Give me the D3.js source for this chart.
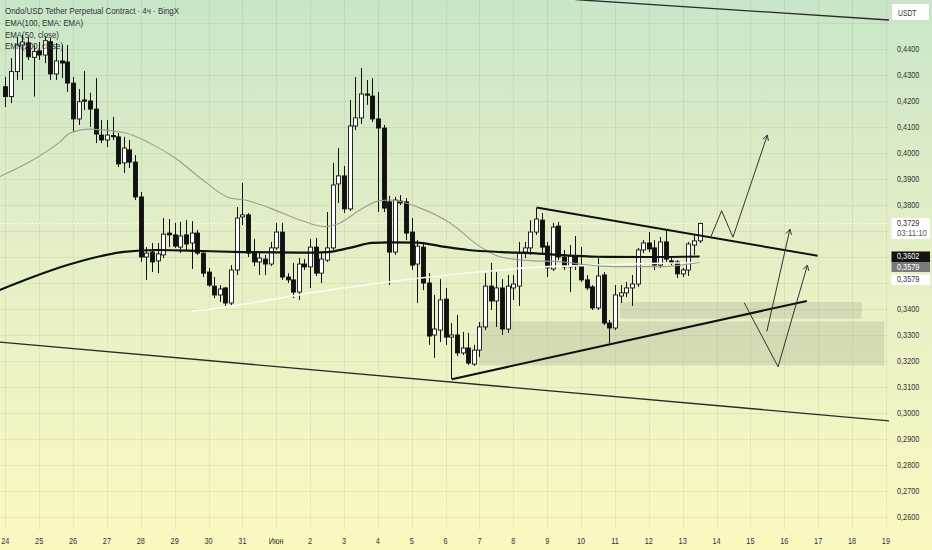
<!DOCTYPE html>
<html><head><meta charset="utf-8">
<script src="https://cdn.jsdelivr.net/npm/d3@7"></script>
<style>
html,body{margin:0;padding:0;background:#fff;overflow:hidden}
svg{display:block;font-family:"Liberation Sans","Noto Sans",Arial,sans-serif}
</style>
</head><body>
<svg id="c" width="932" height="550"></svg>
<script>
// ---------- DATA ----------
const START = Date.UTC(2025, 4, 24, 0, 0);   // first 4h candle: 24 May 00:00
const title = "Ondo/USD Tether Perpetual Contract · 4ч · BingX";
const legend = ["EMA(100, EMA: EMA)", "EMA(50, close)", "EMA(200, close)"];
const open = [.4255,.4217,.4313,.4415,.4424,.4368,.4393,.4377,.4428,.4304,.4354,.4350,.4269,.4131,.4204,.4200,.4169,.4069,.4050,.4067,.4062,.3962,.4012,.3965,.3831,.3600,.3619,.3585,.3608,.3692,.3685,.3638,.3685,.3654,.3692,.3615,.3542,.3488,.3454,.3481,.3423,.3550,.3754,.3762,.3615,.3581,.3592,.3573,.3635,.3696,.3523,.3512,.3465,.3573,.3562,.3638,.3538,.3588,.3635,.3881,.3912,.3785,.4104,.4135,.4227,.4219,.4131,.4096,.3812,.3619,.3815,.3812,.3696,.3573,.3638,.3500,.3300,.3319,.3438,.3292,.3300,.3231,.3250,.3188,.3242,.3331,.3488,.3431,.3481,.3323,.3481,.3488,.3619,.3635,.3696,.3742,.3642,.3554,.3719,.3600,.3562,.3604,.3569,.3512,.3485,.3404,.3531,.3346,.3327,.3450,.3462,.3481,.3496,.3627,.3654,.3635,.3569,.3658,.3585,.3581,.3535,.3550,.3646,.3662];
const high = [.4293,.4365,.4446,.4454,.4446,.4415,.4427,.4450,.4442,.4423,.4415,.4415,.4292,.4246,.4315,.4232,.4288,.4127,.4127,.4139,.4077,.4062,.4050,.3992,.3850,.3638,.3654,.3654,.3750,.3746,.3731,.3735,.3742,.3738,.3704,.3627,.3558,.3523,.3492,.3485,.3569,.3792,.3885,.3769,.3669,.3619,.3608,.3658,.3731,.3731,.3538,.3577,.3596,.3592,.3669,.3673,.3615,.3773,.3962,.4019,.3950,.4204,.4292,.4327,.4281,.4288,.4235,.4108,.3835,.3831,.3838,.3827,.3750,.3665,.3654,.3538,.3454,.3515,.3481,.3346,.3377,.3312,.3308,.3262,.3350,.3538,.3577,.3542,.3515,.3531,.3531,.3658,.3658,.3742,.3788,.3769,.3658,.3731,.3735,.3627,.3646,.3681,.3638,.3531,.3492,.3596,.3542,.3358,.3492,.3492,.3504,.3531,.3635,.3665,.3696,.3665,.3677,.3704,.3596,.3588,.3558,.3658,.3685,.3732];
const low = [.4177,.4192,.4281,.4281,.4358,.4217,.4358,.4346,.4281,.4281,.4288,.4235,.4081,.4108,.4165,.4100,.4038,.4038,.4023,.4050,.3946,.3923,.3942,.3819,.3581,.3512,.3542,.3538,.3596,.3638,.3635,.3615,.3627,.3554,.3608,.3523,.3485,.3442,.3427,.3412,.3415,.3531,.3723,.3600,.3565,.3531,.3531,.3565,.3627,.3512,.3500,.3442,.3435,.3550,.3481,.3527,.3500,.3581,.3627,.3808,.3769,.3777,.4088,.4112,.4185,.4119,.3773,.3773,.3492,.3608,.3800,.3665,.3550,.3423,.3473,.3262,.3212,.3273,.3262,.3131,.3219,.3223,.3185,.3181,.3215,.3319,.3396,.3331,.3300,.3308,.3435,.3412,.3596,.3608,.3685,.3608,.3523,.3546,.3588,.3550,.3465,.3550,.3504,.3473,.3396,.3396,.3338,.3269,.3319,.3423,.3446,.3412,.3485,.3615,.3619,.3550,.3558,.3581,.3569,.3519,.3523,.3527,.3608,.3654];
const close = [.4217,.4313,.4415,.4427,.4370,.4390,.4377,.4432,.4304,.4354,.4346,.4269,.4131,.4197,.4200,.4169,.4073,.4050,.4069,.4063,.3958,.4019,.3965,.3831,.3600,.3615,.3581,.3612,.3688,.3685,.3642,.3681,.3650,.3692,.3615,.3538,.3492,.3454,.3477,.3423,.3550,.3750,.3762,.3615,.3581,.3596,.3573,.3635,.3696,.3523,.3512,.3465,.3573,.3562,.3638,.3538,.3592,.3635,.3877,.3912,.3785,.4104,.4135,.4227,.4223,.4131,.4096,.3788,.3619,.3819,.3808,.3692,.3569,.3642,.3500,.3296,.3323,.3435,.3292,.3300,.3231,.3250,.3192,.3242,.3331,.3488,.3431,.3481,.3323,.3488,.3496,.3615,.3635,.3696,.3746,.3638,.3558,.3715,.3600,.3562,.3604,.3565,.3512,.3481,.3404,.3527,.3346,.3327,.3454,.3462,.3481,.3496,.3627,.3654,.3631,.3569,.3658,.3592,.3577,.3535,.3550,.3650,.3662,.3729];

// indicator readings: [candle index, price]
const ema100 = [[-1,0.3473],[5,0.3524],[11,0.3569],[17,0.3604],[21,0.3620],[27,0.3627],[35,0.3623],[42,0.3619],[52,0.3617],[57,0.3619],[61,0.3635],[65,0.3654],[68,0.3656],[73,0.3655],[77,0.3642],[82,0.3627],[88,0.3619],[94,0.3614],[98,0.3608],[105,0.3601],[114,0.3600],[123,0.3602]];
const ema50 = [[-1,0.3909],[4.4,0.3967],[9.7,0.4043],[11.5,0.4077],[15,0.4092],[21.2,0.4078],[25.6,0.4038],[30.1,0.3981],[35,0.3896],[39.8,0.3827],[42.5,0.3819],[46.9,0.3788],[52.2,0.3742],[56.6,0.3717],[59.3,0.3731],[62.8,0.3781],[66.4,0.3817],[68.1,0.3819],[73.5,0.3788],[78.8,0.3731],[84.1,0.3640],[87.6,0.3601],[93,0.3586],[98.3,0.3582],[105.4,0.3565],[110.7,0.3563],[116,0.3563],[123,0.3579]];
const ema200 = [[33,0.3392],[36.3,0.3399],[42.5,0.3419],[54.9,0.3465],[68.1,0.3505],[77,0.3527],[87.6,0.3550],[93.8,0.3560],[105.4,0.3569],[114.2,0.3575],[123,0.3579]];

// drawings: [candle index, price]
const resistance = [[94.1,0.3790],[143.9,0.3605]];
const support = [[79.1,0.3130],[142,0.3431]];
const channelTop = [[101,0.4590],[157,0.4511]];
const channelBottom = [[-1,0.3273],[157,0.2969]];
const arrows = [
  [[125,0.3678],[126.9,0.3778],[128.9,0.3676],[135,0.4069]],
  [[130.9,0.3424],[136.9,0.3178],[142.1,0.3569]],
  [[134.9,0.3313],[139,0.3707]]
];
// zones: [fromIndex, toIndex, topPrice, bottomPrice]
const zones = [[108.9,151.7,0.3427,0.3363],[84.0,155.7,0.3352,0.3183]];

const priceTicks = [0.26,0.27,0.28,0.29,0.30,0.31,0.32,0.33,0.34,0.36,0.38,0.39,0.40,0.41,0.42,0.43,0.44];
const gridTicks = d3.range(25, 46).map(v => v / 100);
const countdown = "03:11:10";
const lastEma100 = 0.3602, lastEma50 = 0.3579, lastEma200 = 0.3579;

// ---------- CHART ----------
const W = 932, H = 550, PW = 889, PH = 530;
const svg = d3.select("#c");
const tk = k => new Date(START + k * 4 * 3600 * 1000);
const x = d3.scaleUtc().domain([new Date(Date.UTC(2025,4,24)), new Date(Date.UTC(2025,5,19))]).range([5.3, 885.9]);
const y = d3.scaleLinear().domain([0.26, 0.44]).range([517, 49]);
const X = k => x(tk(k));
const fmt = v => v.toFixed(4).replace(".", ",");
function narrow(sel, f){ sel.each(function(){ const w = this.getComputedTextLength(); d3.select(this).attr("textLength", w*f).attr("lengthAdjust","spacingAndGlyphs"); }); }

const defs = svg.append("defs");
const g = defs.append("linearGradient").attr("id","bg").attr("x1",0).attr("y1",0).attr("x2",0).attr("y2",1);
g.append("stop").attr("offset","0%").attr("stop-color","#c9e6c8");
g.append("stop").attr("offset","45%").attr("stop-color","#e4efc6");
g.append("stop").attr("offset","100%").attr("stop-color","#fcf8c0");
defs.append("clipPath").attr("id","plot").append("rect").attr("x",0).attr("y",0).attr("width",PW).attr("height",PH);

svg.append("rect").attr("width",W).attr("height",H).attr("fill","url(#bg)");

// grid
const grid = svg.append("g").attr("clip-path","url(#plot)").attr("stroke","rgba(0,0,0,0.055)").attr("stroke-width",1);
grid.selectAll("line.h").data(gridTicks).join("line").attr("class","h")
  .attr("x1",0).attr("x2",PW).attr("y1",d=>Math.round(y(d))+0.5).attr("y2",d=>Math.round(y(d))+0.5);
const days = x.ticks(d3.utcDay.every(1));
grid.selectAll("line.v").data(days).join("line").attr("class","v")
  .attr("x1",d=>Math.round(x(d))+0.5).attr("x2",d=>Math.round(x(d))+0.5).attr("y1",0).attr("y2",PH);

const plot = svg.append("g").attr("clip-path","url(#plot)");

// zones
plot.selectAll("rect.zone").data(zones).join("rect").attr("class","zone")
  .attr("x",d=>X(d[0])).attr("width",d=>X(d[1])-X(d[0]))
  .attr("y",d=>y(d[2])).attr("height",d=>y(d[3])-y(d[2]))
  .attr("fill","rgba(130,130,120,0.2)");

// legend (under candles)
const leg = svg.append("g").attr("fill","#2f3337").attr("font-size","8.8px");
const t0 = leg.append("text").attr("x",5).attr("y",14.3).text(title);
t0.attr("textLength",174).attr("lengthAdjust","spacingAndGlyphs");
const legW = [78, 54, 58];
legend.forEach((t,i)=>leg.append("text").attr("x",5).attr("y",26+i*11.5).text(t).attr("textLength",legW[i]).attr("lengthAdjust","spacingAndGlyphs"));

// price line (dotted)
plot.append("line").attr("x1",0).attr("x2",PW).attr("y1",y(close[close.length-1])).attr("y2",y(close[close.length-1]))
  .attr("stroke","rgba(255,255,255,0.95)").attr("stroke-width",1).attr("stroke-dasharray","1.5,2");

// candles
const idx = d3.range(open.length);
const bw = 4;
const cg = plot.append("g");
cg.selectAll("line.wick").data(idx).join("line").attr("class","wick")
  .attr("x1",k=>Math.round(X(k))+0.5).attr("x2",k=>Math.round(X(k))+0.5)
  .attr("y1",k=>y(high[k])).attr("y2",k=>y(low[k]))
  .attr("stroke","#111").attr("stroke-width",1);
cg.selectAll("rect.body").data(idx).join("rect").attr("class","body")
  .attr("x",k=>Math.round(X(k))+0.5-bw/2).attr("width",bw)
  .attr("y",k=>y(Math.max(open[k],close[k])))
  .attr("height",k=>Math.max(1.2, Math.abs(y(open[k])-y(close[k]))))
  .attr("fill",k=>close[k]>=open[k]?"#ffffff":"#111111")
  .attr("stroke","#111").attr("stroke-width",0.9);

// EMAs
const line = d3.line().x(d=>X(d[0])).y(d=>y(d[1])).curve(d3.curveMonotoneX);
plot.append("path").datum(ema200).attr("d",line).attr("fill","none").attr("stroke","#fbfbf2").attr("stroke-width",1.6);
plot.append("path").datum(ema50).attr("d",line).attr("fill","none").attr("stroke","#9b9d94").attr("stroke-width",1.1);
plot.append("path").datum(ema100).attr("d",line).attr("fill","none").attr("stroke","#111").attr("stroke-width",2.2);

// drawings
const seg = d3.line().x(d=>X(d[0])).y(d=>y(d[1]));
[channelTop, channelBottom].forEach(d=>plot.append("path").datum(d).attr("d",seg).attr("fill","none").attr("stroke","#2a2a2a").attr("stroke-width",1.3));
[resistance, support].forEach(d=>plot.append("path").datum(d).attr("d",seg).attr("fill","none").attr("stroke","#111").attr("stroke-width",2));
arrows.forEach(a=>{
  plot.append("path").datum(a).attr("d",seg).attr("fill","none").attr("stroke","#333").attr("stroke-width",1);
  const p1 = a[a.length-2], p2 = a[a.length-1];
  const x1 = X(p1[0]), y1 = y(p1[1]), x2 = X(p2[0]), y2 = y(p2[1]);
  const ang = Math.atan2(y2-y1, x2-x1), L = 6, sp = 0.5;
  const pts = [[x2 - L*Math.cos(ang-sp), y2 - L*Math.sin(ang-sp)],[x2,y2],[x2 - L*Math.cos(ang+sp), y2 - L*Math.sin(ang+sp)]];
  plot.append("path").attr("d", d3.line()(pts)).attr("fill","none").attr("stroke","#333").attr("stroke-width",1);
});

// price axis labels
const ax = svg.append("g").attr("font-size","8.6px").attr("fill","#2f3337");
ax.selectAll("text").data(priceTicks).join("text").attr("x",897).attr("y",d=>y(d)+3).text(fmt)
  .attr("textLength",22.3).attr("lengthAdjust","spacingAndGlyphs");

// time axis labels
const tl = svg.append("g").attr("font-size","8.6px").attr("fill","#2f3337").attr("text-anchor","middle")
  .selectAll("text").data(days).join("text")
  .attr("x",d=>x(d)).attr("y",544)
  .text(d=>d.getUTCDate()===1 ? "Июн" : d.getUTCDate());
narrow(tl, 0.85);

// USDT box
svg.append("rect").attr("x",891.5).attr("y",3.5).attr("width",38).attr("height",17).attr("rx",2).attr("fill","#fff").attr("stroke","#d6d6d6");
svg.append("text").attr("x",898).attr("y",15.5).attr("font-size","8.6px").attr("fill","#2f3337").text("USDT").attr("textLength",18.5).attr("lengthAdjust","spacingAndGlyphs");

// price tags
function tag(val, yy, h, fill, color, extra){
  svg.append("rect").attr("x",891.5).attr("y",yy).attr("width",38.5).attr("height",h).attr("fill",fill);
  svg.append("text").attr("x",897).attr("y",yy+8).attr("font-size","8.6px").attr("fill",color).text(fmt(val))
    .attr("textLength",22.3).attr("lengthAdjust","spacingAndGlyphs");
  if(extra) svg.append("text").attr("x",897).attr("y",yy+18).attr("font-size","8.6px").attr("fill","#555").text(extra)
    .attr("textLength",30).attr("lengthAdjust","spacingAndGlyphs");
}
const lp = close[close.length-1];
tag(lp, y(lp)-5.5, 21, "#ffffff", "#2f3337", countdown);
tag(lastEma100, y(lastEma100)-5, 10.5, "#131313", "#ffffff");
tag(lastEma50, y(lastEma100)+5.5, 10, "#7a7a7a", "#ffffff");
tag(lastEma200, y(lastEma100)+18, 10.5, "#ffffff", "#2f3337");
</script>
</body></html>
